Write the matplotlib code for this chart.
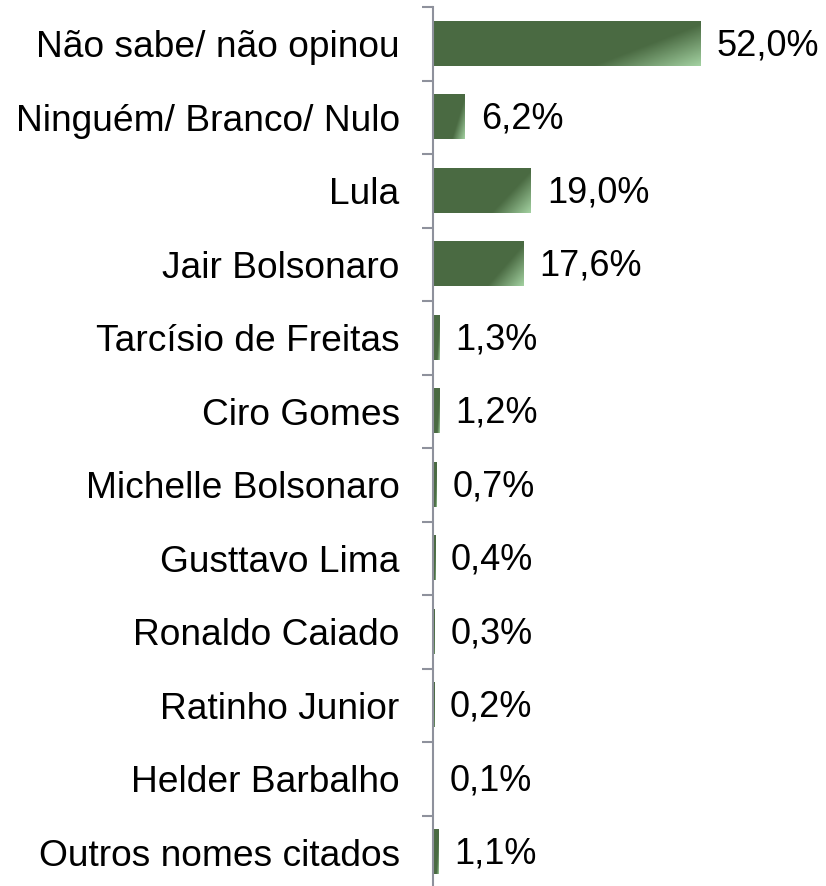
import numpy as np
import matplotlib.pyplot as plt
from matplotlib.colors import LinearSegmentedColormap

# dados da pesquisa
categorias = ["Não sabe/ não opinou", "Ninguém/ Branco/ Nulo", "Lula", "Jair Bolsonaro",
              "Tarcísio de Freitas", "Ciro Gomes", "Michelle Bolsonaro", "Gusttavo Lima",
              "Ronaldo Caiado", "Ratinho Junior", "Helder Barbalho", "Outros nomes citados"]
valores = [52.0, 6.2, 19.0, 17.6, 1.3, 1.2, 0.7, 0.4, 0.3, 0.2, 0.1, 1.1]
rotulos = ["52,0%", "6,2%", "19,0%", "17,6%", "1,3%", "1,2%", "0,7%", "0,4%",
           "0,3%", "0,2%", "0,1%", "1,1%"]

plt.rcParams['font.family'] = ['Liberation Sans', 'DejaVu Sans']

W, H = 826, 886
fig = plt.figure(figsize=(W / 100, H / 100), dpi=100)
ax = fig.add_axes([433 / W, -3 / H, (W - 433) / W, 882 / H])

cmap = LinearSegmentedColormap.from_list("verde", ["#4a6a42", "#4a6a42", "#a3d1a1"])

# gradiente diagonal em cada barra (claro no canto inferior direito)
n = len(categorias)
altura = 0.6
gu, gv = np.meshgrid(np.linspace(0, 1, 200), np.linspace(0, 1, 60))
s = 0.7 * gu + 0.3 * (1 - gv)
grad = np.clip((s - 0.72) / 0.28, 0, 1)
for i, v in enumerate(valores):
    ax.imshow(grad, cmap=cmap, vmin=-1, vmax=1, aspect='auto',
              extent=[0, v, i - altura / 2, i + altura / 2], origin='upper',
              interpolation='bilinear')
    ax.text(v + 16 / 5.15, i + 0.03, rotulos[i], va='center', ha='left', fontsize=26)

ax.set_xlim(0, (W - 433) / 5.15)
ax.set_ylim(n - 0.5, -0.5)

ax.set_yticks(range(n))
ax.set_yticklabels(categorias, fontsize=26.7)
ax.set_yticks(np.arange(-0.5, n, 1), minor=True)
ax.tick_params(axis='y', which='major', length=0, pad=24)
ax.tick_params(axis='y', which='minor', length=8, width=1.5, color='#8e919c')
ax.set_xticks([])
for lado in ['top', 'right', 'bottom']:
    ax.spines[lado].set_visible(False)
ax.spines['left'].set_color('#8e919c')
ax.spines['left'].set_linewidth(1.5)

fig.savefig("out.png", dpi=100)
